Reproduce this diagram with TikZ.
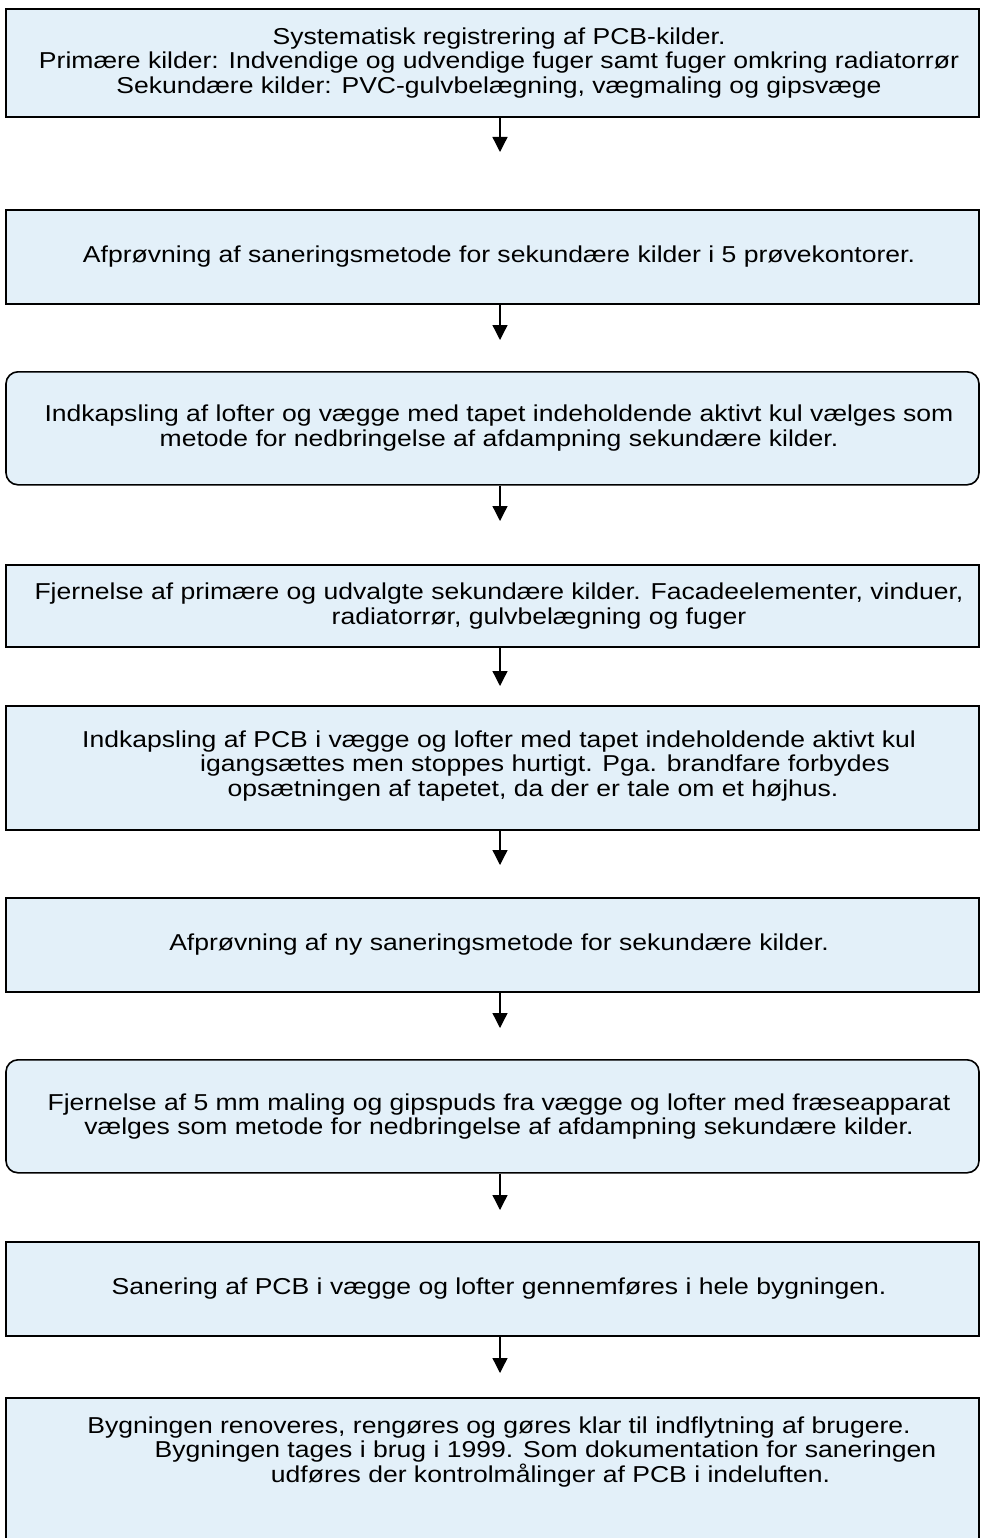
\documentclass[tikz,border=0pt]{standalone}
\usepackage{fontspec}
\setmainfont{Liberation Sans}[FakeStretch=1.154]
\usetikzlibrary{arrows.meta,calc}
\definecolor{boxfill}{RGB}{227,240,249}
\begin{document}
\begin{tikzpicture}[x=1pt,y=-1pt,
  stepbox/.style={draw=black, line width=1.6pt, fill=boxfill, minimum width=973pt,
    inner sep=0pt, anchor=north},
  roundbox/.style={stepbox, rounded corners=12pt},
  txt/.style={align=center, font=\fontsize{23}{24.5}\selectfont, inner sep=0pt},
  arr/.style={-{Triangle[length=15pt,width=15pt]}, line width=1.3pt}]
\useasboundingbox (0,0) rectangle (981,1538);

% boxes
\node[stepbox, minimum height=108pt] (b1) at (492.5,8) {};
\node[stepbox, minimum height=94pt] (b2) at (492.5,209) {};
\node[roundbox, minimum height=113pt] (b3) at (492.5,371) {};
\node[stepbox, minimum height=82pt] (b4) at (492.5,564) {};
\node[stepbox, minimum height=124pt] (b5) at (492.5,705) {};
\node[stepbox, minimum height=94pt] (b6) at (492.5,897) {};
\node[roundbox, minimum height=113pt] (b7) at (492.5,1059) {};
\node[stepbox, minimum height=94pt] (b8) at (492.5,1241) {};
\node[stepbox, minimum height=160pt] (b9) at (492.5,1397) {};

% texts
\node[txt] (x1) at ($(b1.center)+(6.5,0)$)
  {Systematisk registrering af PCB-kilder.\\
   Primære kilder: Indvendige og udvendige fuger samt fuger omkring radiatorrør\\
   Sekundære kilder: PVC-gulvbelægning, vægmaling og gipsvæge};
\node[txt] (x2) at ($(b2.center)+(6.5,0)$)
  {Afprøvning af saneringsmetode for sekundære kilder i 5 prøvekontorer.};
\node[txt] (x3) at ($(b3.center)+(6.5,0)$)
  {Indkapsling af lofter og vægge med tapet indeholdende aktivt kul vælges som\\
   metode for nedbringelse af afdampning sekundære kilder.};
\node[txt] (x4) at ($(b4.center)+(6.5,0)$)
  {Fjernelse af primære og udvalgte sekundære kilder. Facadeelementer, vinduer,\\
   \hspace*{80pt}radiatorrør, gulvbelægning og fuger};
\node[txt] (x5) at ($(b5.center)+(6.5,-2)$)
  {Indkapsling af PCB i vægge og lofter med tapet indeholdende aktivt kul\\
   \hspace*{92pt}igangsættes men stoppes hurtigt. Pga. brandfare forbydes\\
   \hspace*{68pt}opsætningen af tapetet, da der er tale om et højhus.};
\node[txt] (x6) at ($(b6.center)+(6.5,0)$)
  {Afprøvning af ny saneringsmetode for sekundære kilder.};
\node[txt] (x7) at ($(b7.center)+(6.5,0)$)
  {Fjernelse af 5 mm maling og gipspuds fra vægge og lofter med fræseapparat\\
   vælges som metode for nedbringelse af afdampning sekundære kilder.};
\node[txt] (x8) at ($(b8.center)+(6.5,0)$)
  {Sanering af PCB i vægge og lofter gennemføres i hele bygningen.};
\node[txt] (x9) at (499,1452)
  {Bygningen renoveres, rengøres og gøres klar til indflytning af brugere.\\
   \hspace*{93pt}Bygningen tages i brug i 1999. Som dokumentation for saneringen\\
   \hspace*{103pt}udføres der kontrolmålinger af PCB i indeluften.};

% arrows
\coordinate (t1) at (500,152);
\coordinate (t2) at (500,340);
\coordinate (t3) at (500,521);
\coordinate (t4) at (500,686);
\coordinate (t5) at (500,865);
\coordinate (t6) at (500,1028);
\coordinate (t7) at (500,1210);
\coordinate (t8) at (500,1373);
\draw[arr] (b1.south -| t1) -- (t1);
\draw[arr] (b2.south -| t2) -- (t2);
\draw[arr] (b3.south -| t3) -- (t3);
\draw[arr] (b4.south -| t4) -- (t4);
\draw[arr] (b5.south -| t5) -- (t5);
\draw[arr] (b6.south -| t6) -- (t6);
\draw[arr] (b7.south -| t7) -- (t7);
\draw[arr] (b8.south -| t8) -- (t8);
\end{tikzpicture}
\end{document}
